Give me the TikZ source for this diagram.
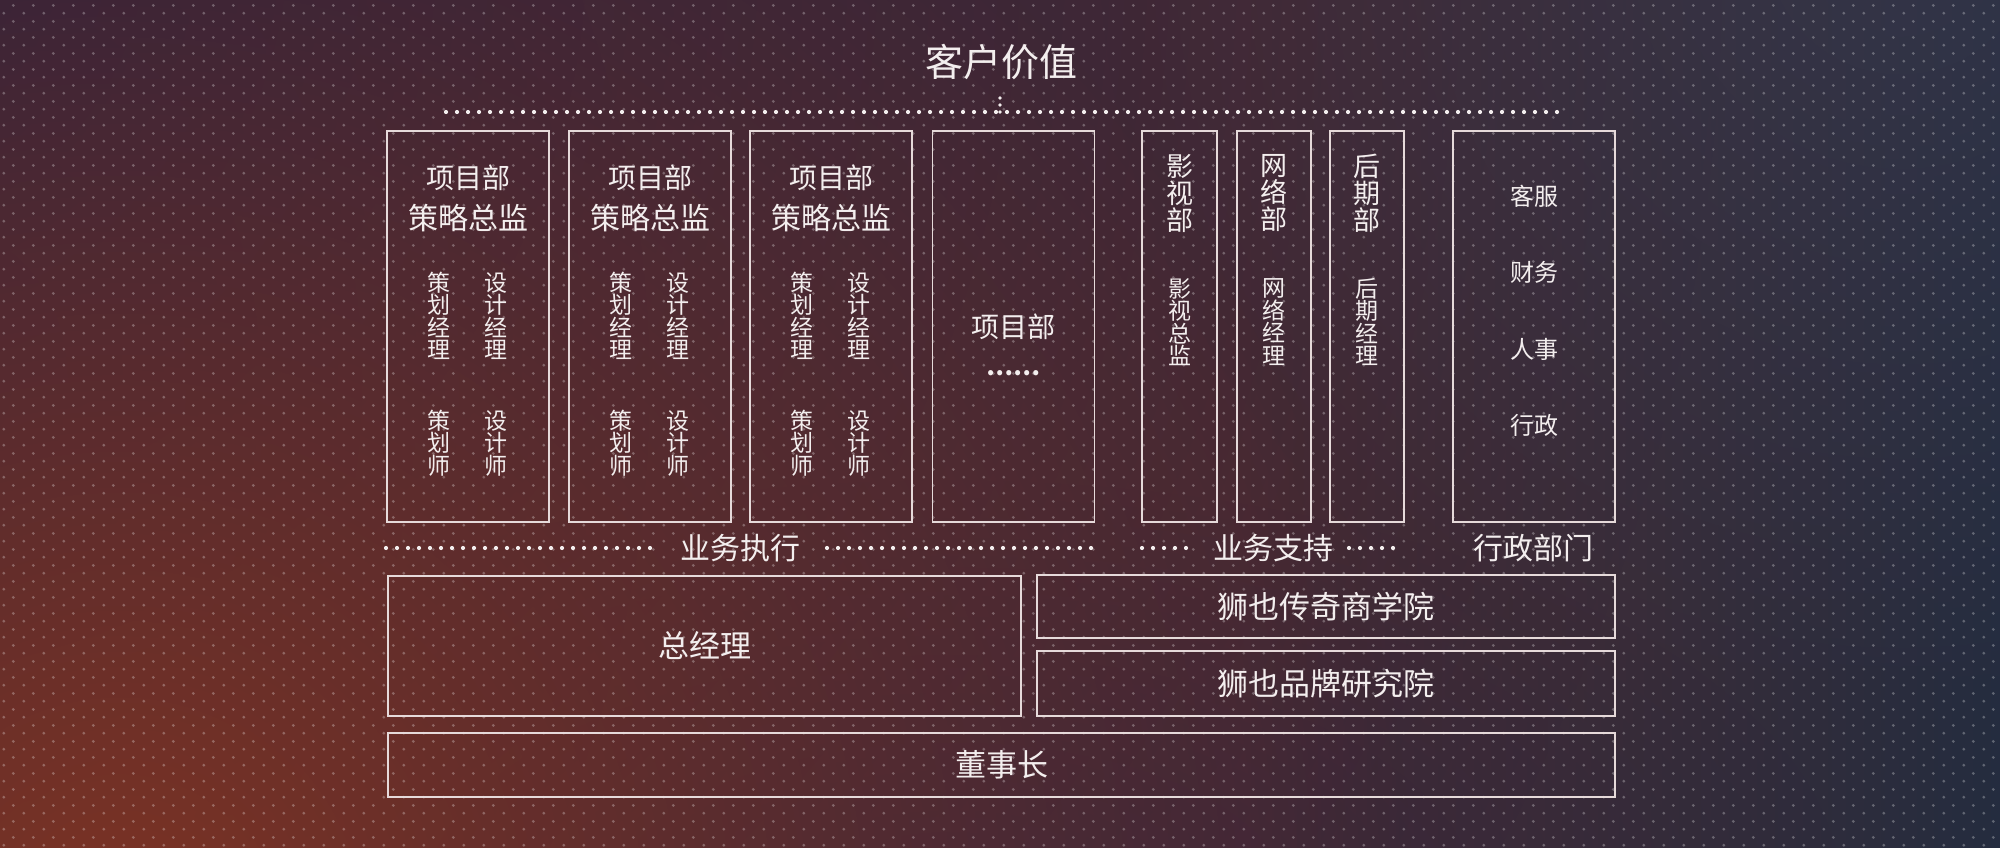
\documentclass[tikz,border=0pt]{standalone}
\usepackage{fontspec}
\setmainfont{Noto Sans CJK SC}
\usetikzlibrary{fadings,patterns}
\definecolor{bgbase}{HTML}{4E2C31}
\definecolor{navy}{HTML}{221F40}
\definecolor{rust}{HTML}{7C3324}
\definecolor{tealnavy}{HTML}{1C2C42}
\definecolor{greynavy}{HTML}{3A3A4E}
\definecolor{lowpurple}{HTML}{33263F}
\definecolor{txt}{HTML}{F3EEEE}
\definecolor{boxln}{HTML}{E6DADA}
\tikzfading[name=glow, inner color=transparent!0, outer color=transparent!100]
\tikzfading[name=toright, left color=transparent!100, right color=transparent!0]
\pgfdeclarepatternformonly{bgdots}{\pgfqpoint{0pt}{0pt}}{\pgfqpoint{20pt}{16.2pt}}{\pgfqpoint{20pt}{16.2pt}}{%
  \pgfpathcircle{\pgfqpoint{5pt}{4.05pt}}{1.7pt}%
  \pgfpathcircle{\pgfqpoint{15pt}{12.15pt}}{1.7pt}%
  \pgfusepath{fill}}
\newcommand{\myfs}[2]{\fontsize{#1}{#2}\selectfont}
\begin{document}
\begin{tikzpicture}[x=1pt,y=-1pt,
  every node/.style={text=txt, inner sep=0pt},
  box/.style={draw=boxln, line width=1.3pt, rectangle},
  titletext/.style={font=\myfs{38}{40}},
  headA/.style={font=\myfs{28}{30}},
  headB/.style={font=\myfs{30}{32}},
  vsmall/.style={font=\myfs{23}{22.5}, align=center},
  vbig/.style={font=\myfs{27}{27}, align=center},
  admintext/.style={font=\myfs{24}{26}},
  labeltext/.style={font=\myfs{30}{32}},
  bigtext/.style={font=\myfs{31}{33}},
  dotline/.style={draw=txt, line width=4.2pt, line cap=round, dash pattern=on 0pt off 11pt}
]
\useasboundingbox (0,0) rectangle (2000,848);
% ---------- background ----------
\fill[bgbase] (0,0) rectangle (2000,848);
\fill[lowpurple, opacity=0.8, path fading=glow] (950,900) ellipse (900 and 420);
\fill[navy, path fading=glow] (-150,-60) circle (1900);
\fill[navy, opacity=0.6, path fading=glow] (-50,380) ellipse (700 and 900);
\fill[rust, path fading=glow] (120,930) circle (1300);
\fill[tealnavy, path fading=toright] (1250,-10) rectangle (2150,858);
\fill[greynavy, opacity=0.6, path fading=glow] (1900,-60) circle (800);
\fill[pattern=bgdots, pattern color=white, fill opacity=0.27] (0,0) rectangle (2000,848);
% ---------- top ----------
\node[titletext] (title) at (1001,62) {客户价值};
\coordinate (tlL) at (446,112);
\coordinate (tlR) at (1565,112);
\coordinate (tlM) at (1000,112);
\coordinate (tlT) at (1000,98);
\draw[dotline] (tlL) -- (tlR);
\draw[dotline, line width=3.6pt, dash pattern=on 0pt off 7pt] (tlT) -- (tlM);
% ---------- project departments ----------
\foreach \c [count=\i] in {468,650,831}{
  \node[box, minimum width=162, minimum height=391] (b\i) at (\c,326.5) {};
  \node[headA] (b\i h) at (\c,178) {项目部};
  \node[headB] (b\i d) at (\c,218) {策略总监};
  \node[vsmall] (b\i pm) at (\c-29,316) {策\\划\\经\\理};
  \node[vsmall] (b\i dm) at (\c+28,316) {设\\计\\经\\理};
  \node[vsmall] (b\i pp) at (\c-29,443) {策\\划\\师};
  \node[vsmall] (b\i dd) at (\c+28,443) {设\\计\\师};
}
\node[box, minimum width=162, minimum height=391] (b4) at (1013.5,326.5) {};
\node[headA] (b4h) at (1013.5,327) {项目部};
\node[font=\myfs{24}{26}\bfseries] (b4e) at (1013.5,373) {……};
% ---------- support departments ----------
\node[box, minimum width=75, minimum height=391] (b5) at (1179.5,326.5) {};
\node[box, minimum width=74, minimum height=391] (b6) at (1274,326.5) {};
\node[box, minimum width=74, minimum height=391] (b7) at (1367,326.5) {};
\node[vbig] (b5t) at (1179.5,193) {影\\视\\部};
\node[vbig] (b6t) at (1274,193) {网\\络\\部};
\node[vbig] (b7t) at (1367,193) {后\\期\\部};
\node[vsmall] (b5s) at (1179.5,322) {影\\视\\总\\监};
\node[vsmall] (b6s) at (1274,322) {网\\络\\经\\理};
\node[vsmall] (b7s) at (1367,322) {后\\期\\经\\理};
% ---------- admin ----------
\node[box, minimum width=162, minimum height=391] (b8) at (1534,326.5) {};
\node[admintext] (a1) at (1534,196) {客服};
\node[admintext] (a2) at (1534,272) {财务};
\node[admintext] (a3) at (1534,349) {人事};
\node[admintext] (a4) at (1534,425) {行政};
% ---------- label row ----------
\node[labeltext] (lexec) at (740,548) {业务执行};
\node[labeltext] (lsupp) at (1273,548) {业务支持};
\node[labeltext] (ladmin) at (1533,548) {行政部门};
\coordinate (d1a) at (386,548);  \coordinate (d1b) at (652,548);
\coordinate (d2a) at (827,548);  \coordinate (d2b) at (1094,548);
\coordinate (d3a) at (1142,548); \coordinate (d3b) at (1187,548);
\coordinate (d4a) at (1349,548); \coordinate (d4b) at (1394,548);
\draw[dotline] (d1a) -- (d1b);
\draw[dotline] (d2a) -- (d2b);
\draw[dotline] (d3a) -- (d3b);
\draw[dotline] (d4a) -- (d4b);
% ---------- bottom ----------
\node[box, bigtext, minimum width=633, minimum height=140] (gm) at (704.5,646) {总经理};
\node[box, bigtext, minimum width=578, minimum height=63] (school) at (1326,606.5) {狮也传奇商学院};
\node[box, bigtext, minimum width=578, minimum height=65] (inst) at (1326,683.5) {狮也品牌研究院};
\node[box, bigtext, minimum width=1227, minimum height=64] (chair) at (1001.5,765) {董事长};
\end{tikzpicture}
\end{document}
